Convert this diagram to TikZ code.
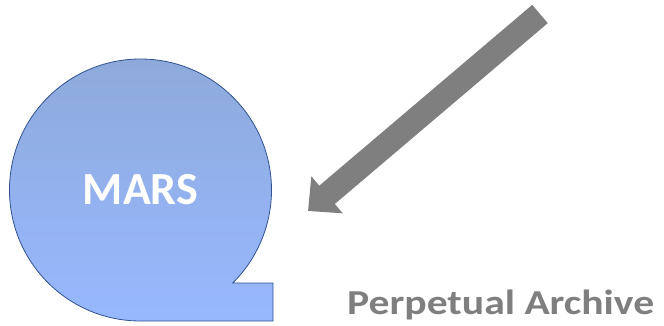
\documentclass[tikz,border=0pt]{standalone}
\usepackage{fontspec}
\setmainfont{Carlito}
\newfontfamily\widefont[FakeStretch=1.19]{Carlito}
\usetikzlibrary{shapes.symbols,arrows.meta}
\definecolor{diskline}{RGB}{47,82,143}
\definecolor{disktop}{RGB}{142,170,219}
\definecolor{diskbottom}{RGB}{152,184,255}
\definecolor{archivegray}{RGB}{127,127,127}
\tikzstyle{disk}=[magnetic tape, magnetic tape tail=0.29, magnetic tape tail extend=1.5pt, draw=diskline, line width=0.8pt, top color=disktop, bottom color=diskbottom, inner sep=0pt, minimum size=262pt, text=white, font=\fontsize{46}{50}\selectfont\bfseries]
\tikzstyle{label}=[text=archivegray, font=\widefont\fontsize{35}{40}\selectfont\bfseries, inner sep=0pt]

\begin{document}
\begin{tikzpicture}[x=1pt,y=1pt]
				\useasboundingbox (0,0) rectangle (664,325);
				\node[disk] (mars) at (140.5,135) {MARS};
				\coordinate (feed) at (540,311);
				\coordinate (feedend) at (308,114);
				\draw[archivegray, line width=24pt, -{Triangle[width=47pt,length=25pt]}] (feed) -- (feedend);
				\node[label, anchor=base west] (archive) at (347,11) {Perpetual Archive};
			\end{tikzpicture}
\end{document}
